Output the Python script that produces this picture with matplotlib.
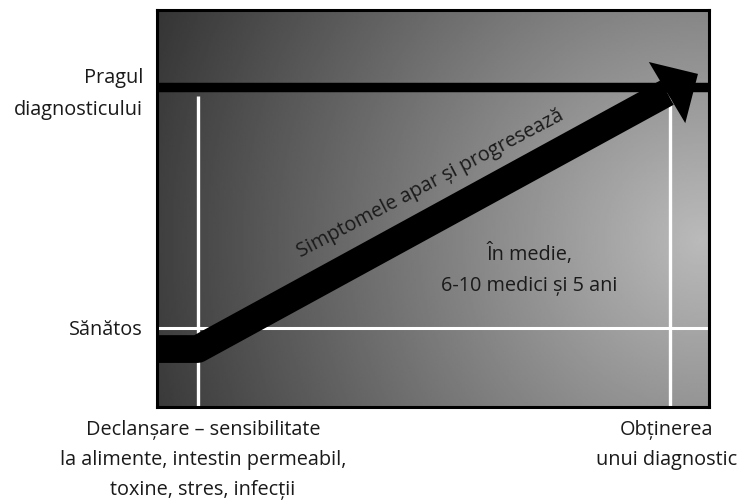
import numpy as np
import matplotlib
matplotlib.use("Agg")
import matplotlib.pyplot as plt

plt.rcParams['font.family'] = ['Open Sans', 'DejaVu Sans']

# --- diagram data (x: time 0-100, y: health level 0-100) ---
level_values = [19.9, 80.5]
level_labels = ['Sănătos', 'Pragul\ndiagnosticului']
event_x = [7.4, 92.9]
event_labels = ['Declanșare – sensibilitate\nla alimente, intestin permeabil,\ntoxine, stres, infecții',
                'Obținerea\nunui diagnostic']
guide_top = 78.3

arrow_x = [0, 7.4, 92.4]
arrow_y = [14.6, 14.6, 79.2]
head_x = [89.1, 98.0, 95.7]
head_y = [86.9, 83.9, 71.5]

arrow_label = 'Simptomele apar și progresează'
note_label = 'În medie,\n6-10 medici și 5 ani'
note_xy = (67.4, 34.9)
arrow_label_xy = (49.5, 56.4)

TXT = '#1a1a1a'
FS = 14.3

fig = plt.figure(figsize=(7.42, 5.02), dpi=100)
ax = fig.add_axes([157 / 742, 1 - 408 / 502, 552 / 742, 397 / 502])
ax.set_xlim(0, 100)
ax.set_ylim(0, 100)

# grey shaded background, light towards the right middle
gx, gy = np.meshgrid(np.linspace(0, 100, 300), np.linspace(0, 100, 220))
px = gx * 5.52
py = (100 - gy) * 3.97
dist = np.hypot(px - 545, (py - 230) * 1.0)
shade = np.clip(186 - 0.225 * dist, 42, 190)
ax.imshow(shade, extent=(0, 100, 0, 100), origin='lower', aspect='auto',
          cmap='gray', vmin=0, vmax=255, zorder=0, interpolation='bilinear')

# white guide lines
ax.axhline(level_values[0], color='white', lw=2.2, zorder=1)
for x in event_x:
    ax.plot([x, x], [0, guide_top], color='white', lw=2.4, zorder=1,
            solid_capstyle='butt')

# diagnostic threshold
ax.axhline(level_values[1], color='black', lw=6.8, zorder=2)

# progression arrow
ax.plot(arrow_x, arrow_y, color='black', lw=20, solid_capstyle='butt',
        solid_joinstyle='round', zorder=3)
ax.fill(head_x, head_y, color='black', zorder=3, lw=0)

ax.text(*arrow_label_xy, arrow_label, rotation=27.7, rotation_mode='anchor',
        ha='center', va='center', fontsize=FS, color=TXT, zorder=4)
ax.text(*note_xy, note_label, ha='center', va='center', fontsize=FS,
        color=TXT, linespacing=1.7, zorder=4)

# labels outside the box
level_offsets = [(-14, -1), (-14, -5.5)]
for val, lab, off in zip(level_values, level_labels, level_offsets):
    ax.annotate(lab, xy=(0, val), xycoords=ax.get_yaxis_transform(),
                xytext=off, textcoords='offset pixels', ha='right', va='center',
                fontsize=FS, color=TXT, linespacing=1.8)

event_offsets = [(5, -12), (-3, -12)]
for x, lab, off in zip(event_x, event_labels, event_offsets):
    ax.annotate(lab, xy=(x, 0), xycoords=ax.get_xaxis_transform(),
                xytext=off, textcoords='offset pixels', ha='center', va='top',
                fontsize=FS, color=TXT, linespacing=1.65)

ax.set_xticks([])
ax.set_yticks([])
for s in ax.spines.values():
    s.set_linewidth(2.2)
    s.set_color('black')
    s.set_zorder(5)

fig.savefig('out.png', dpi=100, facecolor='white')
